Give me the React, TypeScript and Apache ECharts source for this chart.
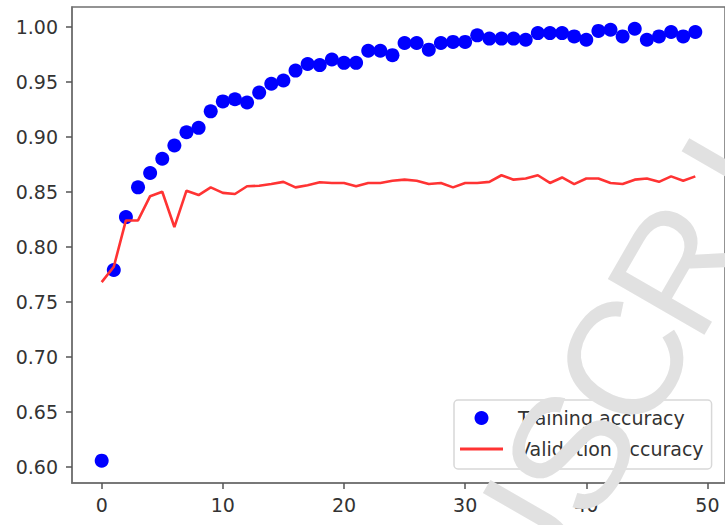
import React, { useEffect, useRef } from "react";
import * as echarts from "echarts";

const trainingAccuracy = [
  0.606, 0.779, 0.827, 0.854, 0.867, 0.880, 0.892, 0.904, 0.908, 0.923,
  0.932, 0.934, 0.931, 0.940, 0.948, 0.951, 0.960, 0.966, 0.965, 0.970,
  0.967, 0.967, 0.978, 0.978, 0.974, 0.985, 0.985, 0.979, 0.985, 0.986,
  0.986, 0.992, 0.989, 0.989, 0.989, 0.988, 0.994, 0.994, 0.994, 0.991,
  0.988, 0.996, 0.997, 0.991, 0.998, 0.988, 0.991, 0.995, 0.991, 0.995,
];

const validationAccuracy = [
  0.768, 0.782, 0.824, 0.824, 0.846, 0.850, 0.818, 0.851, 0.847, 0.854,
  0.849, 0.848, 0.855, 0.8555, 0.857, 0.859, 0.854, 0.856, 0.8586, 0.858,
  0.858, 0.855, 0.858, 0.858, 0.860, 0.861, 0.860, 0.857, 0.858, 0.854,
  0.858, 0.858, 0.859, 0.865, 0.861, 0.862, 0.865, 0.858, 0.863, 0.857,
  0.862, 0.862, 0.858, 0.857, 0.861, 0.862, 0.859, 0.864, 0.860, 0.864,
];

const xTicks = [0, 10, 20, 30, 40, 50];
const yTicks = [0.6, 0.65, 0.7, 0.75, 0.8, 0.85, 0.9, 0.95, 1.0];
const seriesNames = ["Training accuracy", "Validation accuracy"];
// visible part of the diagonal "MANUSCRIPT" watermark
const watermarkLetters = ["U", "S", "C", "R", "I"];

const FONT = "DejaVu Sans";

export default function App() {
  const ref = useRef<HTMLDivElement>(null);

  useEffect(() => {
    if (!ref.current) return;
    const chart = echarts.init(ref.current, undefined, { renderer: "svg" });

    const theta = Math.PI / 3;
    const ux = Math.cos(theta);
    const uy = -Math.sin(theta);
    const spacing = 110;
    const sIndex = 1;
    const anchors = [
      [570, 452],
      [570, 452],
      [568, 456],
      [568, 458],
      [568, 458],
    ];
    const watermark = watermarkLetters.map((ch, i) => {
      const k = i - sIndex;
      const a = anchors[i];
      return {
        type: "text",
        x: a[0] + k * spacing * ux,
        y: a[1] + k * spacing * uy,
        rotation: theta,
        z: 100,
        silent: true,
        style: {
          text: ch,
          fontSize: 162,
          fontFamily: "Liberation Sans",
          fill: "#e1e1e1",
          align: "center",
          verticalAlign: "middle",
        },
      };
    });

    chart.setOption({
      animation: false,
      backgroundColor: "#ffffff",
      grid: {
        left: 72,
        top: 7,
        width: 656,
        height: 476,
        show: true,
        borderColor: "#707070",
        borderWidth: 1.5,
        backgroundColor: "transparent",
      },
      xAxis: {
        type: "value",
        min: -2.45,
        max: 51.45,
        splitLine: { show: false },
        axisLine: { show: true, onZero: false, lineStyle: { color: "#707070", width: 1.5 } },
        axisTick: {
          show: true,
          length: 6,
          lineStyle: { color: "#555", width: 1.5 },
          customValues: xTicks,
        },
        axisLabel: {
          customValues: xTicks,
          margin: 12,
          fontFamily: FONT,
          fontSize: 19,
          color: "#333",
        },
      },
      yAxis: {
        type: "value",
        min: 0.5857,
        max: 1.0177,
        splitLine: { show: false },
        axisLine: { show: true, onZero: false, lineStyle: { color: "#707070", width: 1.5 } },
        axisTick: {
          show: true,
          length: 6,
          lineStyle: { color: "#555", width: 1.5 },
          customValues: yTicks,
        },
        axisLabel: {
          customValues: yTicks,
          margin: 14,
          fontFamily: FONT,
          fontSize: 19,
          color: "#333",
          formatter: (v: number) => v.toFixed(2),
        },
      },
      legend: {
        data: [
          { name: seriesNames[0], icon: "circle" },
          { name: seriesNames[1], icon: "path://M0,0h40v3h-40z" },
        ],
        orient: "vertical",
        left: 454,
        top: 400,
        padding: [7, 8, 9, 6],
        itemGap: 9,
        itemWidth: 43,
        itemHeight: 14,
        backgroundColor: "rgba(255,255,255,0.85)",
        borderColor: "#d8d8d8",
        borderWidth: 1.5,
        borderRadius: 4,
        textStyle: {
          fontFamily: FONT,
          fontSize: 19,
          color: "#333",
          lineHeight: 22,
          padding: [0, 0, 0, 10],
        },
      },
      series: [
        {
          name: seriesNames[0],
          type: "scatter",
          symbol: "circle",
          symbolSize: 14,
          itemStyle: { color: "#0000ff", opacity: 1 },
          data: trainingAccuracy.map((v, i) => [i, v]),
        },
        {
          name: seriesNames[1],
          type: "line",
          symbol: "none",
          showSymbol: false,
          itemStyle: { color: "#ff3333" },
          lineStyle: { color: "#ff3333", width: 2.6 },
          data: validationAccuracy.map((v, i) => [i, v]),
        },
      ],
      graphic: watermark,
    });

    return () => chart.dispose();
  }, []);

  return (
    <div
      ref={ref}
      style={{ position: "fixed", left: 0, top: 0, width: 725, height: 525 }}
    />
  );
}
